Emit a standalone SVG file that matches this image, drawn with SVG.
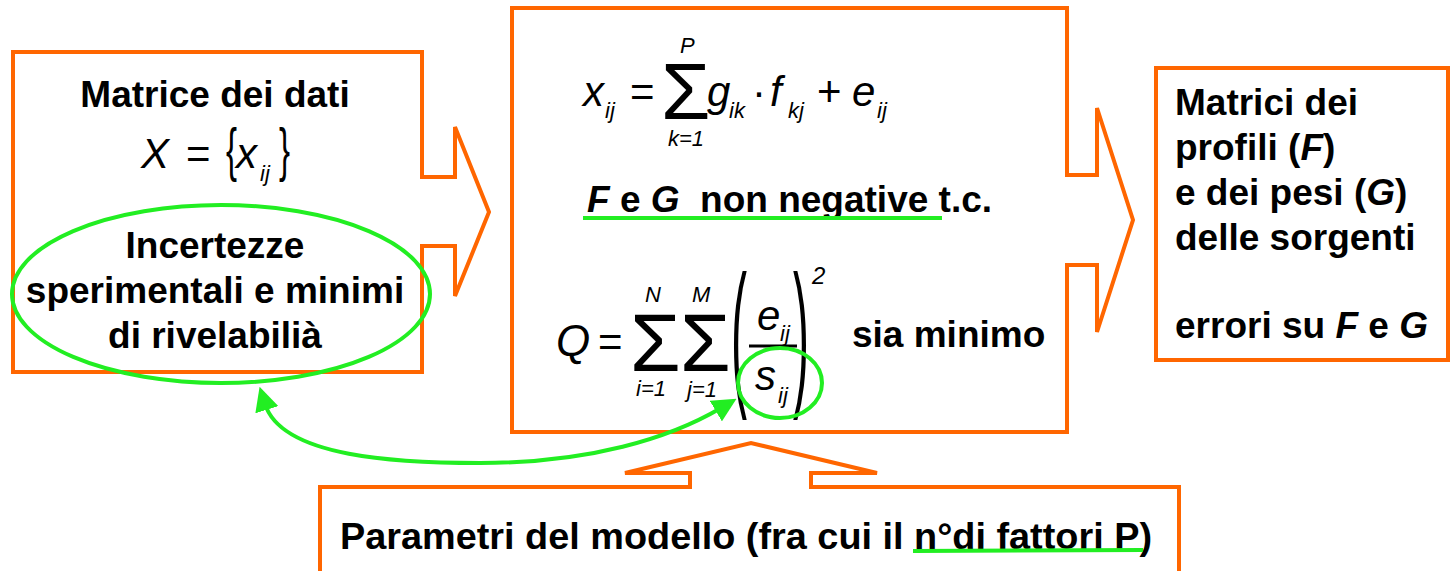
<svg xmlns="http://www.w3.org/2000/svg" width="1451" height="571" viewBox="0 0 1451 571">
<style>
.box{fill:none;stroke:#FF6600;stroke-width:4;stroke-linejoin:miter}
.t{font-family:"Liberation Sans",Arial,sans-serif;font-weight:bold;font-size:37px;fill:#000}
.bi{font-style:italic}
.m{font-family:"Liberation Sans",Arial,sans-serif;font-style:italic;font-size:42px;fill:#000}
.s{font-family:"Liberation Sans",Arial,sans-serif;font-style:italic;font-size:22px;fill:#000}
.op{font-family:"Liberation Sans",Arial,sans-serif;font-size:42px;fill:#000}
.sig{font-family:"Liberation Sans",Arial,sans-serif;font-size:80px;fill:#000}
.par{font-family:"Liberation Sans",Arial,sans-serif;font-size:160px;fill:#000}
.br{font-family:"Liberation Sans",Arial,sans-serif;font-size:60px;fill:#000}
.hl{fill:none;stroke:#22EE22;stroke-width:4}
</style>
<defs>
<marker id="gh" viewBox="0 0 24 24" refX="6" refY="12" markerWidth="24" markerHeight="24" markerUnits="userSpaceOnUse" orient="auto-start-reverse">
<path d="M0,0 L24,12 L0,24 z" fill="#22EE22"/>
</marker>
</defs>
<rect width="1451" height="571" fill="#fff"/>

<g id="node-data">
<path class="box" d="M13,52 L422,52 L422,177 L455,177 L455,127 L489,212 L455,296 L455,246 L422,246 L422,372 L13,372 Z"/>
<text class="t" x="215" y="107" text-anchor="middle">Matrice dei dati</text>
<text class="m" x="141" y="168">X</text>
<text class="op" x="186" y="168">=</text>
<text class="br" transform="translate(226,170) scale(0.55,1)">{</text>
<text class="m" x="236" y="168">x</text>
<text class="s" x="260" y="181">ij</text>
<text class="br" transform="translate(279,170) scale(0.55,1)">}</text>
<text class="t" x="215" y="258" text-anchor="middle">Incertezze</text>
<text class="t" x="215" y="303" text-anchor="middle">sperimentali e minimi</text>
<text class="t" x="215" y="348" text-anchor="middle">di rivelabilià</text>
</g>

<g id="node-model">
<path class="box" d="M512,8 L1067,8 L1067,175 L1097,175 L1097,108 L1133,220 L1097,332 L1097,265 L1067,265 L1067,432 L512,432 Z"/>
<text class="m" x="583" y="106">x</text>
<text class="s" x="605" y="118">ij</text>
<text class="op" x="630" y="106">=</text>
<text class="sig" x="661" y="119">Σ</text>
<text class="s" x="680" y="53">P</text>
<text class="s" x="668" y="146">k=1</text>
<text class="m" x="707" y="106">g</text>
<text class="s" x="729" y="118">ik</text>
<text class="op" x="752" y="106">·</text>
<text class="m" x="770" y="106">f</text>
<text class="s" x="788" y="118">kj</text>
<text class="op" x="817" y="106">+</text>
<text class="m" x="852" y="106">e</text>
<text class="s" x="877" y="118">ij</text>
<text class="t" x="587" y="212" style="white-space:pre"><tspan class="bi">F</tspan> e <tspan class="bi">G</tspan>  non negative t.c.</text>
<text class="m" x="556" y="356" style="font-size:44px">Q</text>
<text class="op" x="598" y="356">=</text>
<text class="sig" x="630" y="371" style="font-size:82px">Σ</text>
<text class="s" x="645" y="302">N</text>
<text class="s" x="636" y="396">i=1</text>
<text class="sig" x="680" y="371" style="font-size:82px">Σ</text>
<text class="s" x="692" y="302">M</text>
<text class="s" x="687" y="397">j=1</text>
<text class="par" transform="translate(731,387) scale(0.3,1)">(</text>
<text class="m" x="757" y="330">e</text>
<text class="s" x="780" y="341">ij</text>
<line x1="749" y1="346" x2="797" y2="346" stroke="#000" stroke-width="3"/>
<text class="m" x="755" y="390">s</text>
<text class="s" x="778" y="403">ij</text>
<text class="par" transform="translate(793,387) scale(0.3,1)">)</text>
<text class="s" x="812" y="284" style="font-size:24px">2</text>
<text class="t" x="852" y="347">sia minimo</text>
</g>

<g id="node-output">
<rect class="box" x="1156" y="68" width="292" height="292"/>
<text class="t" x="1175" y="115">Matrici dei</text>
<text class="t" x="1175" y="160">profili (<tspan class="bi">F</tspan>)</text>
<text class="t" x="1175" y="205">e dei pesi (<tspan class="bi">G</tspan>)</text>
<text class="t" x="1175" y="250">delle sorgenti</text>
<text class="t" x="1175" y="338">errori su <tspan class="bi">F</tspan> e <tspan class="bi">G</tspan></text>
</g>

<g id="node-params">
<path class="box" d="M320,575 L320,487 L690,487 L690,473 L625,473 L751,443 L877,473 L811,473 L811,487 L1179,487 L1179,575"/>
<text class="t" x="340" y="549" textLength="812" lengthAdjust="spacingAndGlyphs">Parametri del modello (fra cui il n°di fattori P)</text>
</g>

<g id="highlights">
<ellipse class="hl" cx="221" cy="294" rx="209" ry="89"/>
<ellipse class="hl" cx="780" cy="383" rx="42" ry="35"/>
<line x1="583" y1="218" x2="942" y2="218" stroke="#22EE22" stroke-width="4"/>
<line x1="913" y1="551" x2="1143" y2="550" stroke="#22EE22" stroke-width="4"/>
</g>

<g id="connectors">
<path d="M265,404 C282,458 400,463 480,463 C590,463 670,438 721,408" fill="none" stroke="#22EE22" stroke-width="4" marker-start="url(#gh)" marker-end="url(#gh)"/>
</g>
</svg>
